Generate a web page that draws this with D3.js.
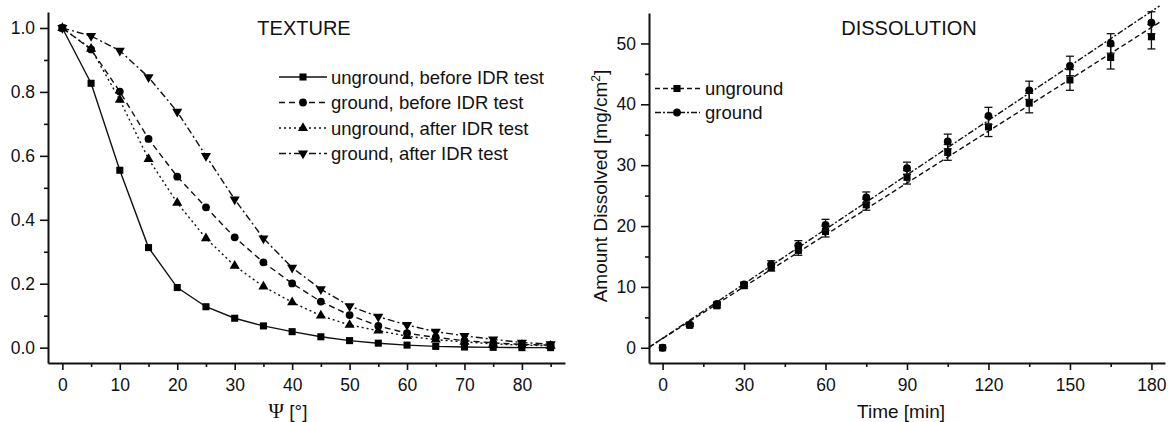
<!DOCTYPE html>
<html>
<head>
<meta charset="utf-8">
<script src="https://cdn.jsdelivr.net/npm/d3@7"></script>
<style>
    body { margin: 0; background: #fff; }
    text { font-family: "Liberation Sans", Arial, sans-serif; fill: #111; }
</style>
</head>
<body>
<div id="canvas"></div>
<script>
"use strict"

let svgWidth = 1169
let svgHeight = 422

/* TEXTURE panel data */
let psi = [0, 5, 10, 15, 20, 25, 30, 35, 40, 45, 50, 55, 60, 65, 70, 75, 80, 85]
let ungroundBefore = [1.0, 0.827, 0.555, 0.313, 0.188, 0.128, 0.092, 0.068, 0.050, 0.034, 0.022, 0.014, 0.008, 0.004, 0.002, 0.001, 0.0, 0.0]
let groundBefore = [1.0, 0.933, 0.801, 0.653, 0.535, 0.439, 0.345, 0.267, 0.201, 0.144, 0.102, 0.068, 0.045, 0.032, 0.022, 0.015, 0.010, 0.008]
let ungroundAfter = [1.0, 0.935, 0.775, 0.590, 0.453, 0.342, 0.256, 0.191, 0.142, 0.100, 0.071, 0.053, 0.036, 0.025, 0.018, 0.012, 0.008, 0.006]
let groundAfter = [1.0, 0.975, 0.929, 0.846, 0.738, 0.600, 0.464, 0.342, 0.250, 0.183, 0.130, 0.097, 0.071, 0.050, 0.037, 0.026, 0.016, 0.011]
let textureNames = ["unground, before IDR test", "ground, before IDR test", "unground, after IDR test", "ground, after IDR test"]
let psiMajor = [0, 10, 20, 30, 40, 50, 60, 70, 80]
let psiMinor = [5, 15, 25, 35, 45, 55, 65, 75, 85]
let fracMajor = [0.0, 0.2, 0.4, 0.6, 0.8, 1.0]
let fracMinor = [0.1, 0.3, 0.5, 0.7, 0.9]

/* DISSOLUTION panel data */
let timeMin = [0, 10, 20, 30, 40, 50, 60, 75, 90, 105, 120, 135, 150, 165, 180]
let ungroundAmount = [0, 3.7, 6.9, 10.2, 13.2, 16.0, 19.1, 23.5, 28.0, 32.1, 36.3, 40.2, 44.0, 47.7, 51.1]
let ungroundErr = [0, 0.2, 0.3, 0.4, 0.6, 0.8, 0.9, 0.9, 1.1, 1.3, 1.6, 1.6, 1.7, 1.9, 2.0]
let groundAmount = [0, 3.8, 7.2, 10.4, 13.7, 16.8, 20.2, 24.7, 29.5, 33.9, 38.1, 42.3, 46.3, 50.0, 53.4]
let groundErr = [0, 0.2, 0.3, 0.4, 0.6, 0.8, 0.9, 0.9, 1.0, 1.2, 1.4, 1.5, 1.6, 1.6, 1.8]
let dissNames = ["unground", "ground"]
let fitRange = [-5, 183]
let timeMajor = [0, 30, 60, 90, 120, 150, 180]
let timeMinor = [15, 45, 75, 105, 135, 165]
let amountMajor = [0, 10, 20, 30, 40, 50]
let amountMinor = [5, 15, 25, 35, 45]

let svg = d3.select("#canvas")
    .append("svg")
    .attr("width", svgWidth)
    .attr("height", svgHeight)

// symbol path helper, kind: square / circle / up / down
function markerPath(kind) {
    if (kind === "square") return d3.symbol(d3.symbolSquare, 50)()
    if (kind === "circle") return d3.symbol(d3.symbolCircle, 48)()
    return d3.symbol(d3.symbolTriangle, 44)()
}

function drawMarker(group, kind, x, y) {
    let rot = kind === "down" ? " rotate(180)" : ""
    group.append("path")
        .attr("d", markerPath(kind))
        .attr("transform", `translate(${x},${y})${rot}`)
        .attr("fill", "#000")
}

function drawAxes(x, y, xMajor, xMinor, yMajor, yMinor, yFormat) {
    let x0 = x.range()[0]
    let y0 = y.range()[0]

    let bottom = svg.append("g").attr("transform", `translate(0,${y0})`)
    bottom.call(d3.axisBottom(x).tickValues(xMinor).tickSize(4).tickFormat(""))
    bottom.select(".domain").remove()
    svg.append("g").attr("transform", `translate(0,${y0})`)
        .call(d3.axisBottom(x).tickValues(xMajor).tickSize(7).tickSizeOuter(0).tickPadding(9))

    let left = svg.append("g").attr("transform", `translate(${x0},0)`)
    left.call(d3.axisLeft(y).tickValues(yMinor).tickSize(4).tickFormat(""))
    left.select(".domain").remove()
    svg.append("g").attr("transform", `translate(${x0},0)`)
        .call(d3.axisLeft(y).tickValues(yMajor).tickSize(8).tickSizeOuter(0).tickPadding(5).tickFormat(yFormat))

    svg.selectAll(".domain").attr("stroke-width", 2).attr("stroke", "#111")
    svg.selectAll(".tick line").attr("stroke-width", 1.6).attr("stroke", "#111")
    svg.selectAll(".tick text").style("font-size", "17.5px").attr("fill", "#111")
}

/* ---------- TEXTURE ---------- */
function drawTexture() {
    let x = d3.scaleLinear().domain([-2.5, 87.5]).range([48, 565])
    let y = d3.scaleLinear().domain([-0.048, 1.05]).range([363, 12])

    drawAxes(x, y, psiMajor, psiMinor, fracMajor, fracMinor, d3.format(".1f"))

    let series = [
        { name: textureNames[0], values: ungroundBefore, dash: null, kind: "square" },
        { name: textureNames[1], values: groundBefore, dash: "6,4", kind: "circle" },
        { name: textureNames[2], values: ungroundAfter, dash: "2,3", kind: "up" },
        { name: textureNames[3], values: groundAfter, dash: "7,3,2,3", kind: "down" }
    ]

    let line = d3.line()
        .x(function (d) { return x(d[0]) })
        .y(function (d) { return y(d[1]) })

    let g = svg.append("g")
    series.forEach(function (s) {
        let pts = psi.map(function (p, i) { return [p, s.values[i]] })
        g.append("path")
            .attr("d", line(pts))
            .attr("fill", "none")
            .attr("stroke", "#111")
            .attr("stroke-width", 1.4)
            .attr("stroke-dasharray", s.dash)
        pts.forEach(function (p) { drawMarker(g, s.kind, x(p[0]), y(p[1])) })
    })

    // legend
    let lg = svg.append("g")
    series.forEach(function (s, i) {
        let yPos = 77 + i * 25.5
        lg.append("line")
            .attr("x1", 279).attr("x2", 327)
            .attr("y1", yPos).attr("y2", yPos)
            .attr("stroke", "#111")
            .attr("stroke-width", 1.4)
            .attr("stroke-dasharray", s.dash)
        drawMarker(lg, s.kind, 303, yPos)
        lg.append("text")
            .attr("x", 331)
            .attr("y", yPos + 6.5)
            .style("font-size", "18.5px")
            .text(s.name)
    })

    svg.append("text")
        .attr("x", 304).attr("y", 35)
        .attr("text-anchor", "middle")
        .style("font-size", "20px")
        .text("TEXTURE")

    let xl = svg.append("text")
        .attr("x", 288).attr("y", 418)
        .attr("text-anchor", "middle")
        .style("font-size", "19px")
    xl.append("tspan").style("font-family", "'Liberation Serif', serif").style("font-size", "21px").text("Ψ")
    xl.append("tspan").text(" [°]")
}

/* ---------- DISSOLUTION ---------- */
function linearFit(xs, ys) {
    let mx = d3.mean(xs)
    let my = d3.mean(ys)
    let sxy = 0, sxx = 0
    for (let i = 0; i < xs.length; i++) {
        sxy += (xs[i] - mx) * (ys[i] - my)
        sxx += (xs[i] - mx) * (xs[i] - mx)
    }
    let slope = sxy / sxx
    return { slope: slope, intercept: my - slope * mx }
}

function drawDissolution() {
    let x = d3.scaleLinear().domain([-5, 185]).range([649, 1165])
    let y = d3.scaleLinear().domain([-2.5, 55]).range([363, 13])

    drawAxes(x, y, timeMajor, timeMinor, amountMajor, amountMinor, d3.format("d"))

    let series = [
        { name: dissNames[0], values: ungroundAmount, err: ungroundErr, dash: "5,3", kind: "square" },
        { name: dissNames[1], values: groundAmount, err: groundErr, dash: "6,2,2,2", kind: "circle" }
    ]

    let g = svg.append("g")
    series.forEach(function (s) {
        let fit = linearFit(timeMin, s.values)
        g.append("line")
            .attr("x1", x(fitRange[0])).attr("y1", y(fit.intercept + fit.slope * fitRange[0]))
            .attr("x2", x(fitRange[1])).attr("y2", y(fit.intercept + fit.slope * fitRange[1]))
            .attr("stroke", "#111")
            .attr("stroke-width", 1.4)
            .attr("stroke-dasharray", s.dash)

        timeMin.forEach(function (t, i) {
            let cx = x(t)
            let lo = y(s.values[i] - s.err[i])
            let hi = y(s.values[i] + s.err[i])
            if (s.err[i] > 0) {
                g.append("line").attr("x1", cx).attr("x2", cx).attr("y1", lo).attr("y2", hi)
                    .attr("stroke", "#111").attr("stroke-width", 1.3)
                g.append("line").attr("x1", cx - 4).attr("x2", cx + 4).attr("y1", lo).attr("y2", lo)
                    .attr("stroke", "#111").attr("stroke-width", 1.3)
                g.append("line").attr("x1", cx - 4).attr("x2", cx + 4).attr("y1", hi).attr("y2", hi)
                    .attr("stroke", "#111").attr("stroke-width", 1.3)
            }
            drawMarker(g, s.kind, cx, y(s.values[i]))
        })
    })

    // legend
    let lg = svg.append("g")
    series.forEach(function (s, i) {
        let yPos = 88.5 + i * 24
        lg.append("line")
            .attr("x1", 655).attr("x2", 700)
            .attr("y1", yPos).attr("y2", yPos)
            .attr("stroke", "#111")
            .attr("stroke-width", 1.4)
            .attr("stroke-dasharray", s.dash)
        drawMarker(lg, s.kind, 677, yPos)
        lg.append("text")
            .attr("x", 705)
            .attr("y", yPos + 6.5)
            .style("font-size", "18.5px")
            .text(s.name)
    })

    svg.append("text")
        .attr("x", 909).attr("y", 35)
        .attr("text-anchor", "middle")
        .style("font-size", "20px")
        .text("DISSOLUTION")

    svg.append("text")
        .attr("x", 901).attr("y", 418)
        .attr("text-anchor", "middle")
        .style("font-size", "19px")
        .text("Time [min]")

    let yl = svg.append("text")
        .attr("transform", "translate(607,186) rotate(-90)")
        .attr("text-anchor", "middle")
        .style("font-size", "19px")
    yl.append("tspan").text("Amount Dissolved [mg/cm")
    yl.append("tspan").attr("dy", -7).style("font-size", "12px").text("2")
    yl.append("tspan").attr("dy", 7).text("]")
}

drawTexture()
drawDissolution()
</script>
</body>
</html>
